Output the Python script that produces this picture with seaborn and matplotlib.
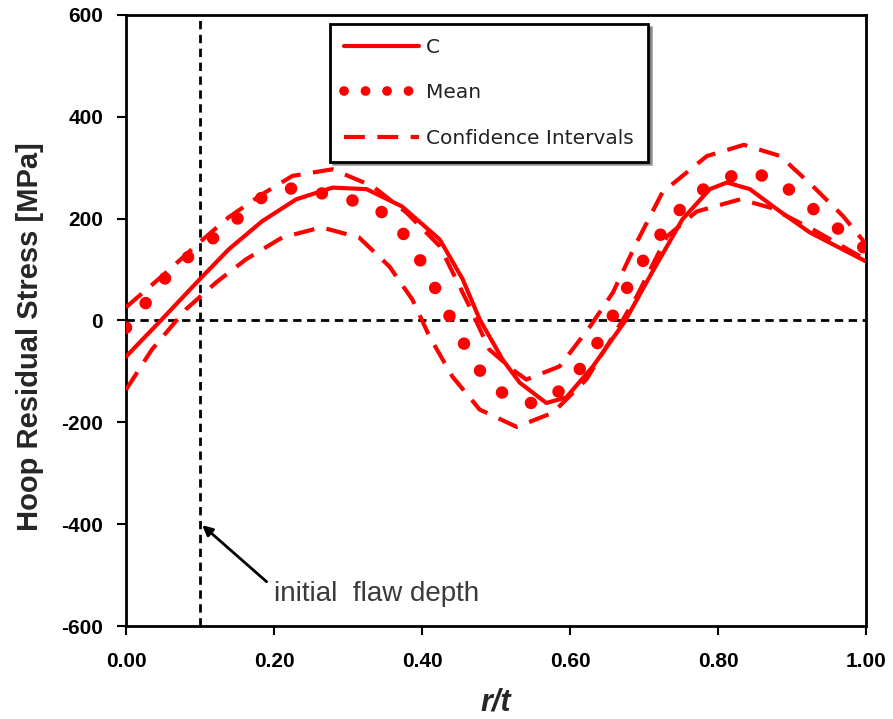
import matplotlib
matplotlib.use("Agg")
import matplotlib.pyplot as plt
import seaborn as sns
import pandas as pd

# Hoop residual stress through the wall
c_r = [0.0, 0.047, 0.097, 0.139, 0.184, 0.23, 0.279, 0.325, 0.373, 0.424, 0.455, 0.478,
       0.509, 0.532, 0.568, 0.595, 0.631, 0.674, 0.708, 0.752, 0.789, 0.812, 0.843,
       0.884, 0.924, 1.0]
c_stress = [-71, 0, 77, 140, 195, 238, 261, 258, 224, 159, 81, 2,
            -77, -122, -162, -151, -90, -2, 87, 199, 258, 271, 258,
            214, 173, 116]

mean_r = [0.0, 0.027, 0.054, 0.085, 0.119, 0.153, 0.184, 0.225, 0.271, 0.311, 0.352,
          0.379, 0.401, 0.421, 0.441, 0.461, 0.484, 0.516, 0.556, 0.593, 0.620, 0.643,
          0.664, 0.683, 0.706, 0.731, 0.758, 0.793, 0.834, 0.874, 0.908, 0.942, 0.976, 1.0]
mean_stress = [-14, 35, 85, 126, 163, 203, 242, 260, 248, 234, 209,
               163, 110, 55, -2, -57, -112, -151, -165, -132, -83, -31,
               26, 81, 134, 187, 234, 271, 291, 281, 244, 203, 165, 140]

upper_r = [0.0, 0.051, 0.099, 0.139, 0.184, 0.225, 0.279, 0.333, 0.379, 0.424, 0.464,
           0.491, 0.522, 0.541, 0.586, 0.627, 0.658, 0.69, 0.725, 0.752, 0.785, 0.835,
           0.884, 0.928, 0.969, 1.0]
upper_stress = [26, 90, 153, 203, 248, 284, 297, 264, 212, 146, 28,
                -57, -96, -116, -90, -12, 55, 153, 252, 284, 323, 345,
                323, 264, 205, 150]

lower_r = [0.0, 0.035, 0.081, 0.122, 0.162, 0.211, 0.264, 0.315, 0.356, 0.387, 0.41,
           0.441, 0.478, 0.528, 0.577, 0.622, 0.658, 0.69, 0.731, 0.771, 0.83, 0.87,
           0.928, 0.992, 1.0]
lower_stress = [-136, -57, 22, 75, 120, 163, 183, 163, 106, 41, -31,
                -110, -175, -209, -181, -116, -31, 47, 165, 214, 238, 222,
                179, 126, 118]

flaw_depth = 0.1
x_ticks = [0.0, 0.2, 0.4, 0.6, 0.8, 1.0]
y_ticks = [-600, -400, -200, 0, 200, 400, 600]

sns.set_style("ticks")
plt.rcParams['font.family'] = ['Liberation Sans', 'DejaVu Sans']

fig = plt.figure(figsize=(8.93, 7.19), dpi=100)
ax = fig.add_axes([126 / 893, 1 - 626 / 719, 740 / 893, 611 / 719])

# reference lines
ax.axhline(0, color="black", lw=2, linestyle=(0, (3, 2)), zorder=1)
ax.axvline(flaw_depth, color="black", lw=2, linestyle=(0, (3, 2)), zorder=1)

df_c = pd.DataFrame({"r": c_r, "s": c_stress})
df_mean = pd.DataFrame({"r": mean_r, "s": mean_stress})
df_up = pd.DataFrame({"r": upper_r, "s": upper_stress})
df_low = pd.DataFrame({"r": lower_r, "s": lower_stress})

sns.lineplot(data=df_c, x="r", y="s", ax=ax, color="red", lw=3, sort=False,
             label="C", zorder=3)
sns.lineplot(data=df_mean, x="r", y="s", ax=ax, color="red", lw=9, sort=False,
             linestyle=(0, (0.01, 2.5)), dash_capstyle="round", label="Mean", zorder=3)
sns.lineplot(data=df_up, x="r", y="s", ax=ax, color="red", lw=3, sort=False,
             linestyle=(0, (5, 3)), label="Confidence Intervals", zorder=3)
sns.lineplot(data=df_low, x="r", y="s", ax=ax, color="red", lw=3, sort=False,
             linestyle=(0, (5, 3)), zorder=3)

ax.set_xlim(0, 1)
ax.set_ylim(-600, 600)
ax.set_xticks(x_ticks)
ax.set_yticks(y_ticks)
ax.set_xticklabels([f"{v:.2f}" for v in x_ticks])
ax.set_yticklabels([str(v) for v in y_ticks])
for lab in ax.get_xticklabels() + ax.get_yticklabels():
    lab.set_family(['Liberation Sans Narrow', 'Liberation Sans'])
    lab.set_fontweight("bold")
    lab.set_fontsize(15)
ax.tick_params(axis="both", direction="out", length=6.5, width=1.5, colors="black")
ax.tick_params(axis="x", pad=12)
ax.tick_params(axis="y", pad=10)
for sp in ax.spines.values():
    sp.set_linewidth(2)
    sp.set_color("black")

ax.set_ylabel("Hoop Residual Stress [MPa]", fontsize=21, fontweight="bold")
ax.yaxis.set_label_coords(-0.111, 0.473)
ax.set_xlabel("r/t", fontsize=22, fontweight="bold", style="italic",
              family=['Liberation Sans Narrow', 'Liberation Sans'], labelpad=12)

# flaw depth marker
ax.annotate("", xy=(0.103, -402), xytext=(0.19, -513),
            arrowprops=dict(arrowstyle="-|>", color="black", lw=2, mutation_scale=15,
                            shrinkA=0, shrinkB=0))
ax.text(0.2, -537, "initial  flaw depth", fontsize=20, color="#3a3a3a",
        va="center", ha="left")

leg = ax.legend(loc="upper left", bbox_to_anchor=(0.276, 0.985), borderaxespad=0,
                frameon=True, fancybox=False, shadow=True, handlelength=3.7,
                labelspacing=1.3, borderpad=0.7, handletextpad=0.35,
                prop={"family": ["DejaVu Sans"], "size": 14.5})
leg.get_frame().set_edgecolor("black")
leg.get_frame().set_linewidth(2)
for t in leg.get_texts():
    t.set_color("#222222")
# smaller dots in the legend's Mean sample
mean_handle = leg.get_lines()[1]
mean_handle.set_linestyle((0, (0.01, 2.2)))
mean_handle.set_linewidth(7)

fig.savefig("out.png", dpi=100)
